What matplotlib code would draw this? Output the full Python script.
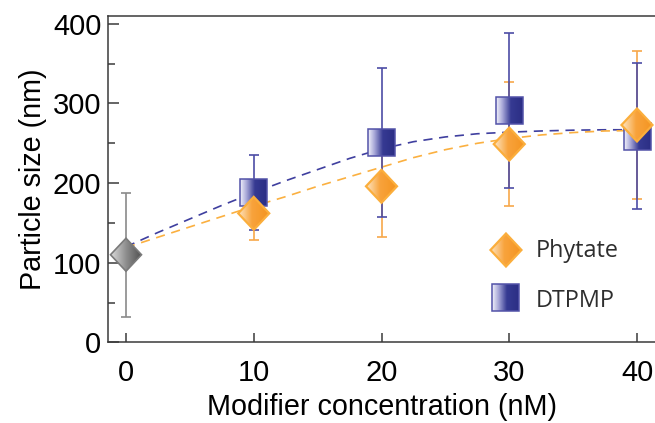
import matplotlib
matplotlib.use("Agg")
import matplotlib.pyplot as plt
import numpy as np
from matplotlib.patches import Polygon
from matplotlib.colors import LinearSegmentedColormap
from matplotlib.ticker import MultipleLocator

# ---------------- data ----------------
conc = [10, 20, 30, 40]
phytate = [162, 196, 249, 273]
phytate_err = [34, 64, 78, 93]
dtpmp = [188, 251, 291, 259]
dtpmp_err = [47, 94, 97, 92]
control_x = [0]
control = [110]
control_err = [78]

fit_x = [0, 2.5, 5, 7.5, 10, 12.5, 15, 17.5, 20, 22.5, 25, 27.5, 30, 32.5, 35, 37.5, 40]
fit_dtpmp = [120, 138, 155, 172, 188, 203, 217, 231, 243, 252, 258, 262, 264, 265.5, 266.5, 267, 267]
fit_phytate = [119, 132, 145, 158, 171, 183, 196, 208, 220, 232, 242, 250, 256, 260.5, 263.5, 265.5, 266]

xticks = [0, 10, 20, 30, 40]
yticks = [0, 100, 200, 300, 400]
legend_labels = ["Phytate", "DTPMP"]

# ---------------- figure ----------------
W, H = 655, 423
fig = plt.figure(figsize=(W / 100, H / 100), dpi=100)
left_px, right_px, top_px, bottom_px = 108.3, 655, 15.7, 342.3
ax = fig.add_axes([left_px / W, 1 - bottom_px / H, (right_px - left_px) / W, (bottom_px - top_px) / H])
pxx = 12.775
xlim = ((left_px - 126) / pxx, (left_px - 126) / pxx + (right_px - left_px) / pxx)
ylim = (0, (bottom_px - top_px) / 0.796)
ax.set_xlim(*xlim)
ax.set_ylim(*ylim)
ax.set_autoscale_on(False)

spine_c = "#3a3a3a"
for s in ["left", "bottom", "top"]:
    ax.spines[s].set_color(spine_c)
    ax.spines[s].set_linewidth(1.1)
ax.spines["right"].set_visible(False)

ax.set_xticks(xticks)
ax.set_yticks(yticks)
ax.yaxis.set_minor_locator(MultipleLocator(50))
ax.tick_params(axis="x", which="major", direction="in", length=6.5, width=1.1, color=spine_c,
               labelsize=21, pad=12, top=False)
ax.tick_params(axis="y", which="major", direction="in", length=7.7, width=1.1, color=spine_c,
               labelsize=21, pad=5, right=False)
ax.tick_params(axis="y", which="minor", direction="in", length=5, width=1.1, color=spine_c, right=False)
for lab in ax.get_xticklabels() + ax.get_yticklabels():
    lab.set_fontfamily("Liberation Sans")

ax.set_xlabel("Modifier concentration (nM)", fontsize=20.7, family="Liberation Sans", labelpad=4)
ax.set_ylabel("Particle size (nm)", fontsize=20.7, family="Liberation Sans", labelpad=4)

# fit lines
ax.plot(fit_x, fit_dtpmp, color="#3f3f9f", lw=1.2, dashes=(5.5, 4), zorder=2)
ax.plot(fit_x, fit_phytate, color="#fbb040", lw=1.2, dashes=(5.5, 4), zorder=2)

# error bars
ax.errorbar(control_x, control, yerr=control_err, fmt="none", ecolor="#8a8a8a", elinewidth=1.2,
            capsize=3.6, capthick=1.2, zorder=3)
ax.errorbar(conc, phytate, yerr=phytate_err, fmt="none", ecolor="#f7a84a", elinewidth=1.2,
            capsize=3.6, capthick=1.2, zorder=3)
ax.errorbar(conc, dtpmp, yerr=dtpmp_err, fmt="none", ecolor="#4d4da5", elinewidth=1.2,
            capsize=3.6, capthick=1.2, zorder=3.5)

# gradient markers
cm_sq = LinearSegmentedColormap.from_list("sq", [(0, "#f4f4fb"), (0.25, "#a4a4d6"), (0.55, "#363a92"), (1, "#2b2e85")])
cm_or = LinearSegmentedColormap.from_list("or", [(0, "#fde8c8"), (0.45, "#f8a33c"), (1, "#f49420")])
cm_gr = LinearSegmentedColormap.from_list("gr", [(0, "#dadada"), (0.5, "#8c8c8c"), (1, "#4f4f4f")])
grad = np.linspace(0, 1, 256).reshape(1, -1)

px_y = 0.796


def grad_marker(x, y, shape, cmap, edge, z, lw):
    if shape == "square":
        hx, hy = 13.5 / pxx, 13.5 / px_y
        verts = [(x - hx, y - hy), (x + hx, y - hy), (x + hx, y + hy), (x - hx, y + hy)]
    else:
        hx, hy = 15.5 / pxx, 16.5 / px_y
        verts = [(x - hx, y), (x, y + hy), (x + hx, y), (x, y - hy)]
    patch = Polygon(verts, closed=True, facecolor="none", edgecolor=edge, lw=lw, zorder=z + 0.1,
                    joinstyle="miter")
    ax.add_patch(patch)
    img = ax.imshow(grad, cmap=cmap, extent=[x - hx, x + hx, y - hy, y + hy], aspect="auto",
                    zorder=z, interpolation="bilinear", origin="lower")
    img.set_clip_path(patch)


for xv, yv in zip(conc, dtpmp):
    grad_marker(xv, yv, "square", cm_sq, "#5252a8", 5, 1.1)
for xv, yv in zip(conc, phytate):
    grad_marker(xv, yv, "diamond", cm_or, "#fbae3c", 6, 1.6)
for xv, yv in zip(control_x, control):
    grad_marker(xv, yv, "diamond", cm_gr, "#7a7a7a", 6, 1.2)

# legend (manual)
def ax2data(fx, fy):
    return ax.transData.inverted().transform(ax.transAxes.transform((fx, fy)))

lx, ly1 = ax2data(0.7274, 0.2826)
_, ly2 = ax2data(0.7274, 0.1387)
grad_marker(lx, ly1, "diamond", cm_or, "#fbae3c", 6, 1.6)
grad_marker(lx, ly2, "square", cm_sq, "#5252a8", 5, 1.1)
ax.text(0.7823, 0.2612, legend_labels[0], transform=ax.transAxes, fontsize=16.8, family="Open Sans",
        color="#2e2e2e", va="baseline", ha="left")
ax.text(0.7823, 0.1081, legend_labels[1], transform=ax.transAxes, fontsize=16.8, family="Open Sans",
        color="#2e2e2e", va="baseline", ha="left")

ax.set_xlim(*xlim)
ax.set_ylim(*ylim)
fig.savefig("out.png", dpi=100)
